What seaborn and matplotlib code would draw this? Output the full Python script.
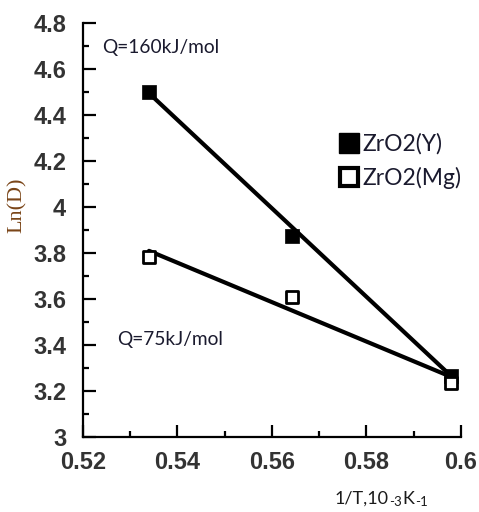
import matplotlib
matplotlib.use("Agg")
import matplotlib.pyplot as plt
import seaborn as sns
import pandas as pd
from matplotlib.ticker import MultipleLocator, FuncFormatter
from matplotlib.lines import Line2D

# ---- data ----
inv_T = [0.534, 0.5642, 0.598]
ln_D_Y = [4.50, 3.875, 3.265]
ln_D_Mg = [3.785, 3.61, 3.235]
fit_x = [0.534, 0.598]
fit_Y = [4.495, 3.265]
fit_Mg = [3.81, 3.262]
series = ["ZrO2(Y)", "ZrO2(Mg)"]
annotations = ["Q=160kJ/mol", "Q=75kJ/mol"]
x_ticks = [0.52, 0.54, 0.56, 0.58, 0.60]
y_ticks = [3.0, 3.2, 3.4, 3.6, 3.8, 4.0, 4.2, 4.4, 4.6, 4.8]

sns.set_theme(style="ticks")
plt.rcParams["font.family"] = ["Liberation Sans", "DejaVu Sans"]
sans = ["Lato", "DejaVu Sans"]

pts = pd.DataFrame({
    "x": inv_T * 2,
    "y": ln_D_Y + ln_D_Mg,
    "s": [series[0]] * 3 + [series[1]] * 3,
})
fits = pd.DataFrame({
    "x": fit_x * 2,
    "y": fit_Y + fit_Mg,
    "s": [series[0]] * 2 + [series[1]] * 2,
})

fig = plt.figure(figsize=(4.79, 5.12), dpi=100)
ax = fig.add_axes([0.173, 0.146, 0.789, 0.809])

sns.lineplot(data=fits, x="x", y="y", units="s", estimator=None,
             color="black", lw=3.0, ax=ax, legend=False, zorder=2)

d_y = pts[pts.s == series[0]]
d_m = pts[pts.s == series[1]]
sns.scatterplot(data=d_y, x="x", y="y", marker="s", s=95, color="black",
                edgecolor="black", linewidth=0.5, ax=ax, legend=False, zorder=3)
sns.scatterplot(data=d_m, x="x", y="y", marker="s", s=80, facecolor="white",
                edgecolor="black", linewidth=2.0, ax=ax, legend=False, zorder=3)

ax.set_xlim(0.52, 0.60)
ax.set_ylim(3.0, 4.8)
ax.set_xticks(x_ticks)
ax.set_yticks(y_ticks)
ax.xaxis.set_minor_locator(MultipleLocator(0.01))
ax.yaxis.set_minor_locator(MultipleLocator(0.1))
ax.xaxis.set_major_formatter(FuncFormatter(lambda v, p: f"{v:g}"))
ax.yaxis.set_major_formatter(FuncFormatter(lambda v, p: f"{v:g}"))

for sp in ["top", "right"]:
    ax.spines[sp].set_visible(False)
for sp in ["left", "bottom"]:
    ax.spines[sp].set_linewidth(1.6)
    ax.spines[sp].set_color("black")

ax.tick_params(which="major", direction="in", length=9, width=1.6,
               color="black", labelsize=17, labelcolor="#333333")
ax.tick_params(which="minor", direction="in", length=4.5, width=1.6, color="black")
ax.tick_params(axis="y", which="major", pad=12)
ax.tick_params(axis="x", which="major", pad=10)
for lab in ax.get_xticklabels() + ax.get_yticklabels():
    lab.set_fontweight("bold")

ax.set_xlabel("")
ax.set_ylabel("Ln(D)", family=["Liberation Serif", "DejaVu Serif"],
              fontsize=16, color="#7a4518")
ax.yaxis.set_label_coords(-0.148, 0.56)

# x-axis label built from pieces with lowered, smaller exponents
lab_kw = dict(family=sans, color="#1a1a1a", annotation_clip=False)
t1 = fig.text(335 / 479, 5 / 512, "1/T,10", fontsize=13, family=sans,
              color="#1a1a1a", ha="left", va="bottom")
t2 = ax.annotate("-3", xy=(1, 0), xycoords=t1, xytext=(0.3, -1),
                 textcoords="offset points", fontsize=9.5, ha="left",
                 va="bottom", **lab_kw)
t3 = ax.annotate("K", xy=(1, 0), xycoords=(t2, t1), xytext=(0.5, 0),
                 textcoords="offset points", fontsize=13, ha="left",
                 va="bottom", **lab_kw)
t4 = ax.annotate("-1", xy=(1, 0), xycoords=(t3, t1), xytext=(0.3, -1),
                 textcoords="offset points", fontsize=9.5, ha="left",
                 va="bottom", **lab_kw)

ax.text(102 / 479, 1 - 47 / 512, annotations[0], transform=fig.transFigure,
        fontsize=13.8, family=sans, color="#1a1a2e", ha="left", va="center")
ax.text(117 / 479, 1 - 340 / 512, annotations[1], transform=fig.transFigure,
        fontsize=13.8, family=sans, color="#1a1a2e", ha="left", va="center")

handles = [
    Line2D([], [], ls="", marker="s", markersize=14.5, markerfacecolor="black",
           markeredgecolor="black"),
    Line2D([], [], ls="", marker="s", markersize=13.5, markerfacecolor="white",
           markeredgecolor="black", markeredgewidth=3),
]
ax.legend(handles, series, loc="upper left", bbox_to_anchor=(0.650, 0.762),
          frameon=False, prop={"family": sans, "size": 16.5}, borderpad=0,
          handlelength=0.8, handletextpad=0.2, labelspacing=0.55,
          labelcolor="#1a1a2e")

fig.savefig("out.png", dpi=100)
